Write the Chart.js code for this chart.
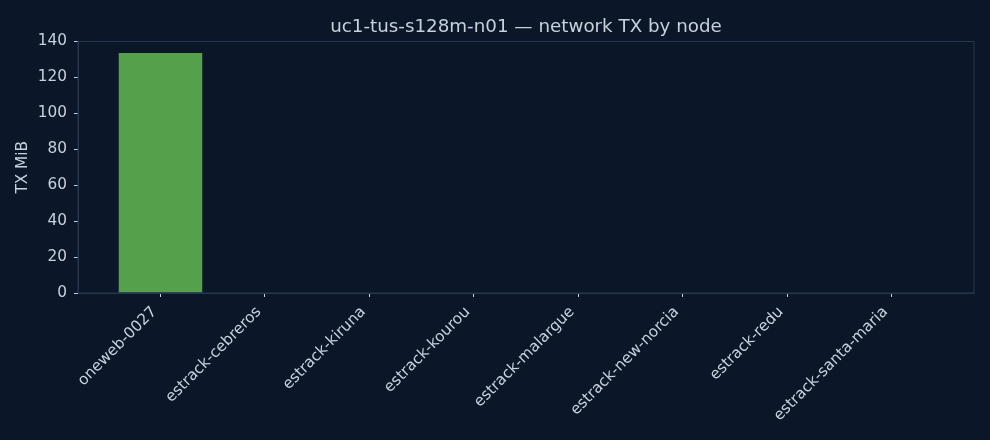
<!DOCTYPE html>
<html>
<head>
<meta charset="utf-8">
<script src="https://cdn.jsdelivr.net/npm/chart.js@4/dist/chart.umd.min.js"></script>
<style>
  html, body { margin: 0; padding: 0; background: #0b1628; }
  #wrap { width: 990px; height: 440px; }
</style>
</head>
<body>
<div id="wrap"><canvas id="c" width="990" height="440"></canvas></div>
<script>
// nodes and their TX volume (MiB)
const nodes = ["oneweb-0027", "estrack-cebreros", "estrack-kiruna", "estrack-kourou",
               "estrack-malargue", "estrack-new-norcia", "estrack-redu", "estrack-santa-maria"]
const txMib = [133.6, 0, 0, 0, 0, 0, 0, 0]
const yTicks = [0, 20, 40, 60, 80, 100, 120, 140]

const titleText = "uc1-tus-s128m-n01 \u2014 network TX by node"
const textColor = "#c8d0dc"
const spineColor = "#27364f"
const font = "'DejaVu Sans', sans-serif"

// draws the title over the plot area and closes the frame (top/right spines)
const framePlugin = {
    id: "frame",
    beforeDraw(chart) {
        const ctx = chart.ctx
        ctx.save()
        ctx.fillStyle = "#0b1628"
        ctx.fillRect(0, 0, chart.width, chart.height)
        ctx.restore()
    },
    afterDraw(chart) {
        const a = chart.chartArea
        const ctx = chart.ctx
        ctx.save()
        ctx.strokeStyle = spineColor
        ctx.lineWidth = 1
        ctx.strokeRect(a.left, a.top, a.right - a.left, a.bottom - a.top)
        ctx.fillStyle = textColor
        ctx.font = "18.3px " + font
        ctx.textAlign = "center"
        ctx.textBaseline = "middle"
        ctx.fillText(titleText, (a.left + a.right) / 2, 27)
        ctx.restore()
    }
}

const ctx = document.getElementById("c").getContext("2d")
new Chart(ctx, {
    type: "bar",
    data: {
        datasets: [{
            label: "TX MiB",
            data: nodes.map((n, i) => ({ x: i, y: txMib[i] })),
            backgroundColor: "#55a14b",
            barPercentage: 0.8,
            categoryPercentage: 1.0
        }]
    },
    options: {
        responsive: false,
        animation: false,
        layout: { padding: { top: 41.5, right: 16, bottom: 0, left: 0 } },
        plugins: {
            legend: { display: false },
            title: { display: false },
            tooltip: { enabled: false }
        },
        scales: {
            x: {
                type: "linear",
                offset: false,
                min: -0.79,
                max: 7.79,
                afterBuildTicks: axis => { axis.ticks = nodes.map((n, i) => ({ value: i })) },
                afterFit: axis => { axis.height = 147 },
                ticks: {
                    autoSkip: false,
                    minRotation: 45,
                    maxRotation: 45,
                    color: textColor,
                    font: { family: font, size: 15.3 },
                    padding: 6,
                    labelOffset: -6,
                    callback: v => nodes[v]
                },
                grid: { offset: false, drawOnChartArea: false, drawTicks: true, tickLength: 4, tickColor: textColor },
                border: { display: true, color: spineColor }
            },
            y: {
                min: 0,
                max: 140,
                afterBuildTicks: axis => { axis.ticks = yTicks.map(v => ({ value: v })) },
                afterFit: axis => { axis.width = 78 },
                ticks: {
                    color: textColor,
                    font: { family: font, size: 15.3 },
                    padding: 7
                },
                grid: { drawOnChartArea: false, drawTicks: true, tickLength: 4, tickColor: textColor },
                border: { display: true, color: spineColor },
                title: {
                    display: true,
                    text: "TX MiB",
                    color: textColor,
                    font: { family: font, size: 15.3 },
                    padding: { top: 14, bottom: 0 }
                }
            }
        }
    },
    plugins: [framePlugin]
})
</script>
</body>
</html>
